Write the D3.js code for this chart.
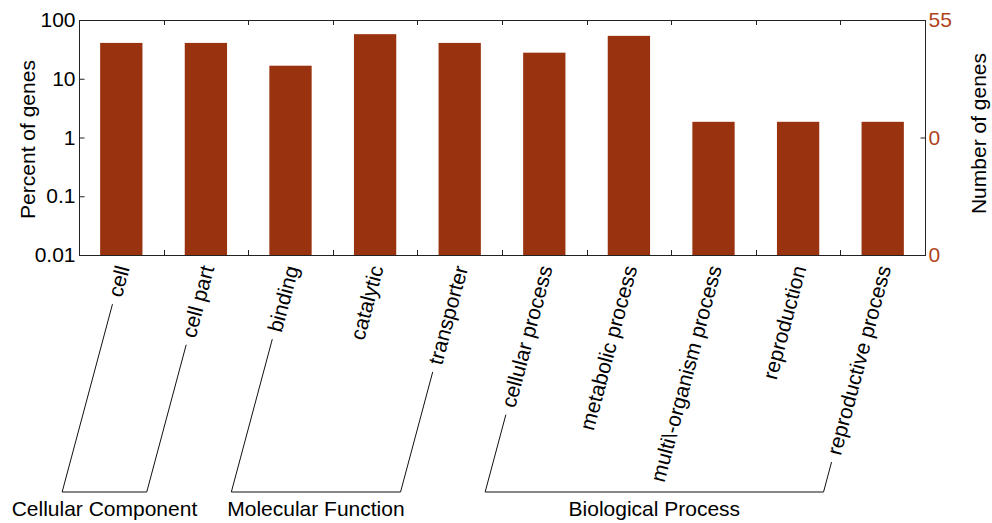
<!DOCTYPE html>
<html>
<head>
<meta charset="utf-8">
<script src="https://cdn.jsdelivr.net/npm/d3@7/dist/d3.min.js"></script>
<style>
  html, body { margin: 0; padding: 0; background: #fff; }
  svg { display: block; font-family: "Liberation Sans", Arial, Helvetica, sans-serif; }
</style>
</head>
<body>
<svg id="chart" width="992" height="523"></svg>
<script>
// GO term categories and the share of genes annotated to each
const categories = ["cell", "cell part", "binding", "catalytic", "transporter",
  "cellular process", "metabolic process", "multi\\-organism process", "reproduction", "reproductive process"];
const percentValues = [40.74, 40.74, 16.67, 57.41, 40.74, 27.78, 53.70, 1.85, 1.85, 1.85];

// Left axis (percent, log) and right axis (gene count) ticks
const leftTickValues = [100, 10, 1, 0.1, 0.01];
const leftTickLabels = ["100", "10", "1", "0.1", "0.01"];
const rightTickValues = [100, 1, 0.01];
const rightTickLabels = ["55", "0", "0"];

// GO ontology groups: first and last category index in each
const groupNames = ["Cellular Component", "Molecular Function", "Biological Process"];
const groupFirst = [0, 2, 5];
const groupLast = [1, 4, 9];

const barColor = "#99330f";
const countColor = "#b0441b";
const fontSize = 21;

const svg = d3.select("#chart");
const plot = { left: 79, right: 925, top: 20, bottom: 255 };

const x = d3.scaleBand().domain(categories).range([plot.left, plot.right]).padding(0);
const y = d3.scaleLog().domain([0.01, 100]).range([plot.bottom, plot.top]);
const bw = x.bandwidth();

// bars
svg.append("g").selectAll("rect").data(categories).join("rect")
  .attr("x", c => x(c) + bw * 0.25)
  .attr("width", bw * 0.5)
  .attr("y", (c, i) => y(percentValues[i]))
  .attr("height", (c, i) => plot.bottom - y(percentValues[i]))
  .attr("fill", barColor);

// frame
svg.append("rect")
  .attr("x", plot.left + 0.5).attr("y", plot.top + 0.5)
  .attr("width", plot.right - plot.left).attr("height", plot.bottom - plot.top)
  .attr("fill", "none").attr("stroke", "#222").attr("stroke-width", 1);

// left axis
const leftAxis = d3.axisLeft(y)
  .tickValues(leftTickValues)
  .tickFormat((d, i) => leftTickLabels[i])
  .tickSizeInner(-5).tickSizeOuter(0).tickPadding(4);
const gl = svg.append("g").attr("transform", `translate(${plot.left + 0.5},0)`).call(leftAxis);
gl.select(".domain").remove();
gl.selectAll("line").attr("stroke", "#222");
gl.selectAll("text").attr("font-size", fontSize).attr("fill", "#000")
  .attr("font-family", "Liberation Sans, Arial, sans-serif");

// right axis
const rightAxis = d3.axisRight(y)
  .tickValues(rightTickValues)
  .tickFormat((d, i) => rightTickLabels[i])
  .tickSizeInner(-5).tickSizeOuter(0).tickPadding(3);
const gr = svg.append("g").attr("transform", `translate(${plot.right + 0.5},0)`).call(rightAxis);
gr.select(".domain").remove();
gr.selectAll("line").attr("stroke", "#222");
gr.selectAll("text").attr("font-size", fontSize).attr("fill", countColor)
  .attr("font-family", "Liberation Sans, Arial, sans-serif");

// category boundary ticks on top and bottom edges
const edges = categories.slice(1).map(c => Math.round(x(c)) + 0.5);
svg.append("g").selectAll("line").data(edges).join("line")
  .attr("x1", d => d).attr("x2", d => d)
  .attr("y1", plot.bottom).attr("y2", plot.bottom - 5)
  .attr("stroke", "#222");
svg.append("g").selectAll("line").data(edges).join("line")
  .attr("x1", d => d).attr("x2", d => d)
  .attr("y1", plot.top).attr("y2", plot.top + 5)
  .attr("stroke", "#222");

// axis titles
svg.append("text")
  .attr("transform", `translate(35,${(plot.top + plot.bottom) / 2 + 2}) rotate(-90)`)
  .attr("text-anchor", "middle").attr("font-size", fontSize)
  .text("Percent of genes");
svg.append("text")
  .attr("transform", `translate(986,${(plot.top + plot.bottom) / 2 - 4}) rotate(-90)`)
  .attr("text-anchor", "middle").attr("font-size", fontSize)
  .text("Number of genes");

// rotated category labels
const angle = 75;
const rad = angle * Math.PI / 180;
const dirDown = [-Math.cos(rad), Math.sin(rad)]; // from text end back toward its start
const labelY = 266;
const anchors = categories.map(c => [x(c) + bw / 2 + 1.4, labelY]);

const labels = svg.append("g").selectAll("text").data(categories).join("text")
  .attr("transform", (c, i) => `translate(${anchors[i][0]},${anchors[i][1]}) rotate(${-angle})`)
  .attr("text-anchor", "end")
  .attr("dy", "0.35em")
  .attr("font-size", fontSize)
  .text(c => c);

// group brackets
const bracketY = 492;
const gap = 8;
const lenOf = i => labels.nodes()[i].getComputedTextLength();
const footX = i => anchors[i][0] - (bracketY - anchors[i][1]) / Math.tan(rad);
const bracket = svg.append("g").attr("fill", "none").attr("stroke", "#111").attr("stroke-width", 1);

groupNames.forEach((name, g) => {
  const a = groupFirst[g], b = groupLast[g];
  const pts = [a, b].map(i => {
    const d = lenOf(i) + gap;
    return { top: [anchors[i][0] + dirDown[0] * d, anchors[i][1] + dirDown[1] * d], foot: [footX(i), bracketY] };
  });
  bracket.append("path").attr("d", d3.line()([pts[0].top, pts[0].foot, pts[1].foot, pts[1].top]));
  svg.append("text")
    .attr("x", (pts[0].foot[0] + pts[1].foot[0]) / 2)
    .attr("y", 516)
    .attr("text-anchor", "middle")
    .attr("font-size", fontSize)
    .text(name);
});
</script>
</body>
</html>
